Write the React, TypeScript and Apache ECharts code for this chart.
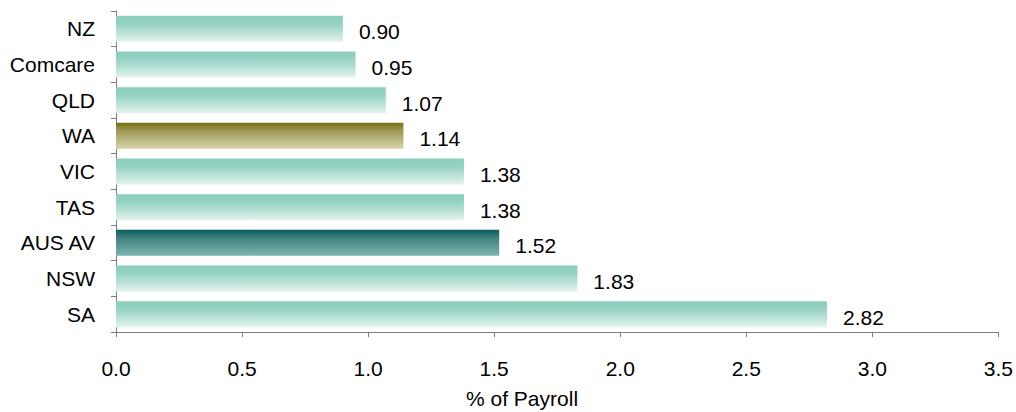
import React, { useEffect, useRef } from "react";
import * as echarts from "echarts";

const categories = ["NZ", "Comcare", "QLD", "WA", "VIC", "TAS", "AUS AV", "NSW", "SA"];
const values = [0.9, 0.95, 1.07, 1.14, 1.38, 1.38, 1.52, 1.83, 2.82];
const xTicks = { min: 0, max: 3.5, interval: 0.5 };
const axisName = "% of Payroll";

const FONT = "'Liberation Sans', Arial, sans-serif";
const FS = 21;

const grad = (top: string, mid: string, bottom: string) =>
  new echarts.graphic.LinearGradient(0, 0, 0, 1, [
    { offset: 0, color: top },
    { offset: 0.3, color: mid },
    { offset: 1, color: bottom },
  ]);

export default function App() {
  const ref = useRef<HTMLDivElement>(null);
  useEffect(() => {
    if (!ref.current) return;
    const chart = echarts.init(ref.current, undefined, { renderer: "svg" });
    const tealG = grad("#8bcdbc", "#94d2c2", "#e3f3ee");
    const waG = grad("#77720c", "#9d9857", "#d9d5aa");
    const ausG = grad("#075c59", "#3f807d", "#7cb5b1");
    const data = values.map((v, i) => ({
      value: v,
      itemStyle: {
        color: categories[i] === "WA" ? waG : categories[i] === "AUS AV" ? ausG : tealG,
      },
    }));
    chart.setOption({
      animation: false,
      textStyle: { fontFamily: FONT },
      grid: { left: 116, right: 16, top: 11, bottom: 80, containLabel: false },
      xAxis: {
        type: "value",
        min: xTicks.min,
        max: xTicks.max,
        interval: xTicks.interval,
        splitLine: { show: false },
        axisLine: { show: true, lineStyle: { color: "#7f7f7f", width: 1 } },
        axisTick: { show: true, length: 5, lineStyle: { color: "#7f7f7f" } },
        axisLabel: {
          margin: 26,
          fontSize: FS,
          fontFamily: FONT,
          color: "#000",
          formatter: (v: number) => v.toFixed(1),
        },
      },
      yAxis: {
        type: "category",
        data: categories,
        inverse: true,
        axisLine: { show: true, lineStyle: { color: "#7f7f7f", width: 1 } },
        axisTick: { show: true, length: 5, lineStyle: { color: "#7f7f7f" } },
        axisLabel: { margin: 21, fontSize: FS, fontFamily: FONT, color: "#000" },
      },
      graphic: [
        {
          type: "text",
          left: 466,
          top: 388,
          style: { text: axisName, fontSize: FS, fill: "#000", fontFamily: FONT },
        },
      ],
      series: [
        {
          type: "bar",
          data,
          barCategoryGap: "27%",
          label: {
            show: true,
            position: "right",
            distance: 16,
            offset: [0, 3],
            fontSize: FS,
            fontFamily: FONT,
            color: "#000",
            formatter: (p: any) => Number(p.value).toFixed(2),
          },
        },
      ],
    });
    return () => chart.dispose();
  }, []);
  return (
    <div
      ref={ref}
      style={{ position: "fixed", left: 0, top: 0, width: 1016, height: 412, background: "#fff" }}
    />
  );
}
